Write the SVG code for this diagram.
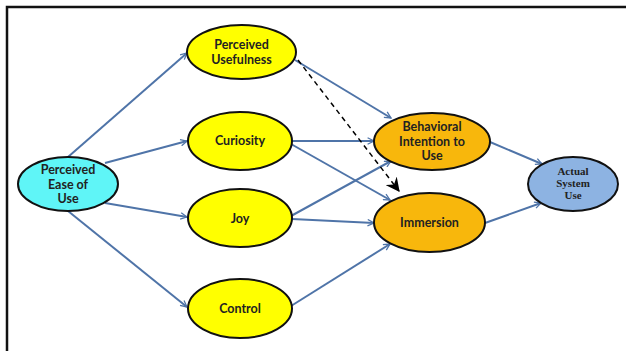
<svg xmlns="http://www.w3.org/2000/svg" width="626" height="351" viewBox="0 0 626 351">
<style>
.n{stroke:#111;stroke-width:2}
.t{font-family:Lato,"Liberation Sans",Arial,sans-serif;font-weight:bold;font-size:12.5px;fill:#222;text-anchor:middle}
.s{font-family:"Liberation Serif","Times New Roman",serif;font-weight:bold;font-size:11px;fill:#222;text-anchor:middle}
.e{stroke:#4f74a8;stroke-width:2;fill:none;marker-end:url(#a)}
</style>
<defs>
<marker id="a" viewBox="0 0 10 10" refX="9" refY="5" markerWidth="8" markerHeight="8" markerUnits="userSpaceOnUse" orient="auto">
<path d="M1,1 L9,5 L1,9" fill="none" stroke="#4f74a8" stroke-width="1.6"/>
</marker>
<marker id="b" viewBox="0 0 12 12" refX="11" refY="6" markerWidth="14" markerHeight="14" markerUnits="userSpaceOnUse" orient="auto">
<path d="M0,0 L12,6 L0,12 L4,6 Z" fill="#000"/>
</marker>
</defs>
<rect width="626" height="351" fill="#fff"/>
<path d="M7,351 V7 H626" fill="none" stroke="#111" stroke-width="2.5"/>
<g id="connectors">
<line class="e" x1="68" y1="157" x2="187" y2="53"/>
<line class="e" x1="105" y1="163" x2="187" y2="141"/>
<line class="e" x1="105" y1="203" x2="187" y2="217"/>
<line class="e" x1="68" y1="211" x2="187" y2="307"/>
<line class="e" x1="295" y1="60" x2="391" y2="118"/>
<line class="e" x1="292" y1="141" x2="374" y2="141"/>
<line class="e" x1="291" y1="144" x2="390" y2="200"/>
<line class="e" x1="291" y1="216" x2="391" y2="161"/>
<line class="e" x1="292" y1="219" x2="374" y2="223"/>
<line class="e" x1="291" y1="306" x2="390" y2="244"/>
<line class="e" x1="490" y1="142" x2="542" y2="164"/>
<line class="e" x1="485" y1="223" x2="541" y2="203"/>
<line x1="298" y1="60" x2="399" y2="191" stroke="#000" stroke-width="1.5" stroke-dasharray="5,4" marker-end="url(#b)"/>
</g>
<g id="peu">
<ellipse class="n" cx="68" cy="184" rx="50" ry="27" fill="#5ff5f7"/>
<text class="t" x="68" y="174">Perceived</text>
<text class="t" x="68" y="188.5">Ease of</text>
<text class="t" x="68" y="203">Use</text>
</g>
<g id="pu">
<ellipse class="n" cx="241.5" cy="52" rx="54.5" ry="27" fill="#ffff00"/>
<text class="t" x="241.5" y="49">Perceived</text>
<text class="t" x="241.5" y="64">Usefulness</text>
</g>
<g id="curiosity">
<ellipse class="n" cx="240" cy="141" rx="52" ry="29" fill="#ffff00"/>
<text class="t" x="240" y="145">Curiosity</text>
</g>
<g id="joy">
<ellipse class="n" cx="240" cy="218" rx="52" ry="29" fill="#ffff00"/>
<text class="t" x="240" y="223">Joy</text>
</g>
<g id="control">
<ellipse class="n" cx="240" cy="308.5" rx="52" ry="29.5" fill="#ffff00"/>
<text class="t" x="240" y="313">Control</text>
</g>
<g id="bi">
<ellipse class="n" cx="432" cy="141.5" rx="58" ry="28.5" fill="#f8b70c"/>
<text class="t" x="432" y="131">Behavioral</text>
<text class="t" x="432" y="145.5">Intention to</text>
<text class="t" x="432" y="160">Use</text>
</g>
<g id="immersion">
<ellipse class="n" cx="429.5" cy="222.5" rx="55.5" ry="29.5" fill="#f8b70c"/>
<text class="t" x="429.5" y="227">Immersion</text>
</g>
<g id="asu">
<ellipse class="n" cx="573" cy="184" rx="45" ry="27" fill="#8db3e2"/>
<text class="s" x="573" y="175">Actual</text>
<text class="s" x="573" y="187">System</text>
<text class="s" x="573" y="199">Use</text>
</g>
</svg>
